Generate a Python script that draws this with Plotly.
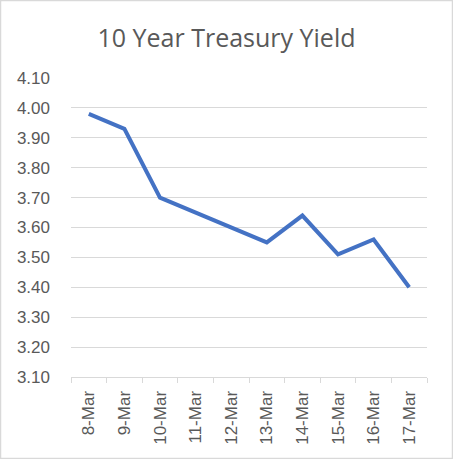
import plotly.graph_objects as go

dates = ["8-Mar", "9-Mar", "10-Mar", "11-Mar", "12-Mar", "13-Mar", "14-Mar", "15-Mar", "16-Mar", "17-Mar"]
yields = [3.98, 3.93, 3.70, 3.65, 3.60, 3.55, 3.64, 3.51, 3.56, 3.40]
y_ticks = [3.10, 3.20, 3.30, 3.40, 3.50, 3.60, 3.70, 3.80, 3.90, 4.00, 4.10]

W, H = 453, 459
L, R, T, B = 71, 26, 78, 82
pw, ph = W - L - R, H - T - B

fig = go.Figure(
    go.Scatter(
        x=dates,
        y=yields,
        mode="lines",
        line=dict(color="#4472C4", width=4),
        hoverinfo="x+y",
    )
)

fig.update_layout(
    width=W,
    height=H,
    margin=dict(l=L, r=R, t=T, b=B, autoexpand=False),
    paper_bgcolor="#FFFFFF",
    plot_bgcolor="#FFFFFF",
    showlegend=False,
    font=dict(family="Liberation Sans, Arial, sans-serif", color="#595959"),
    title=dict(
        text="10 Year Treasury Yield",
        x=0.5,
        xanchor="center",
        y=1 - 38 / H,
        yanchor="middle",
        font=dict(family="Open Sans, sans-serif", size=25, color="#595959"),
    ),
    shapes=[
        dict(
            type="rect",
            xref="paper",
            yref="paper",
            x0=(0.5 - L) / pw,
            x1=(W - 0.5 - L) / pw,
            y0=(0.5 - B) / ph,
            y1=(H - 0.5 - B) / ph,
            line=dict(color="#D9D9D9", width=1.5),
        )
    ],
)

fig.update_xaxes(
    type="category",
    range=[-0.5, len(dates) - 0.5],
    automargin=False,
    tickangle=-90,
    tickson="boundaries",
    ticks="outside",
    ticklen=5,
    tickwidth=1.3,
    tickcolor="#D9D9D9",
    showline=True,
    linecolor="#D9D9D9",
    linewidth=1.3,
    showgrid=False,
    tickfont=dict(size=17, color="#595959"),
    ticklabelstandoff=6,
)
fig.update_yaxes(
    range=[3.10, 4.10],
    automargin=False,
    tickvals=y_ticks,
    ticktext=[f"{v:.2f}" for v in y_ticks],
    showgrid=True,
    gridcolor="#D9D9D9",
    gridwidth=1.4,
    zeroline=False,
    showline=False,
    tickfont=dict(size=17, color="#595959"),
    ticklabelstandoff=20,
)

# drop the default page margin so the chart sits at the window's corner
fig.write_html(
    "out.html",
    config={"displayModeBar": False},
    post_script="document.body.style.margin = '0';",
)
